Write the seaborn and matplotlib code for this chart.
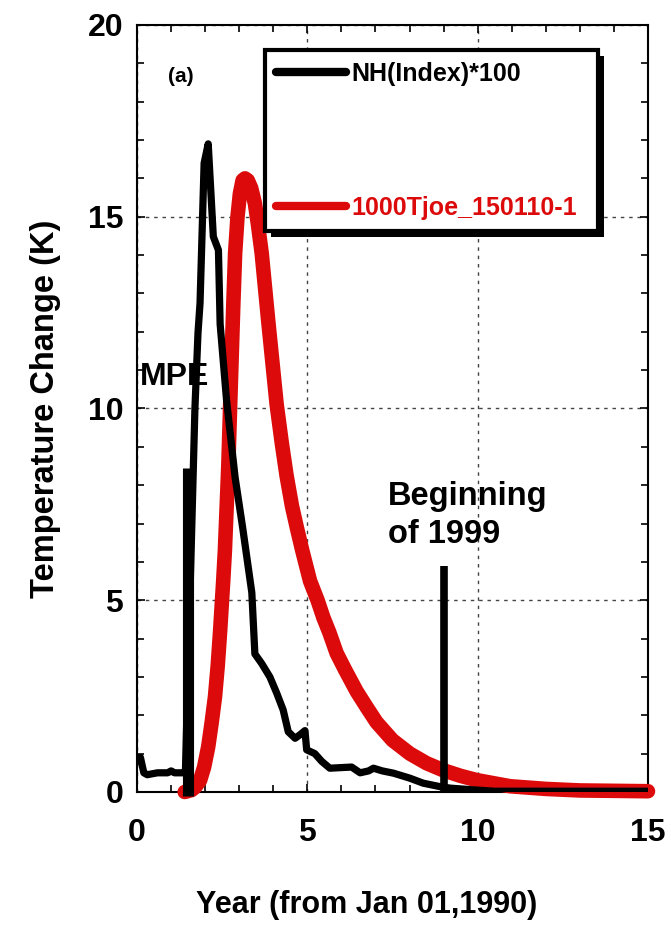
import numpy as np
import pandas as pd
import matplotlib
matplotlib.use("Agg")
import matplotlib.pyplot as plt
from matplotlib.patches import Rectangle
import seaborn as sns

# ---- data ----
nh_year = [0.0, 0.1, 0.2, 0.3, 0.6, 0.9, 1.0, 1.1, 1.35, 1.42, 1.55, 1.70, 1.79,
           1.85, 1.97, 2.09, 2.24, 2.39, 2.44, 2.63, 2.88, 3.10, 3.37, 3.46, 3.66,
           3.90, 4.10, 4.29, 4.44, 4.64, 4.78, 4.93, 4.98, 5.22, 5.42, 5.66, 6.30,
           6.55, 6.80, 6.94, 7.20, 7.53, 8.01, 8.40, 8.89, 9.20, 9.97, 10.5, 15.0]
nh_value = [0.8, 0.9, 0.5, 0.45, 0.5, 0.5, 0.55, 0.5, 0.5, 0.5, 5.0, 10.0, 11.97,
            12.75, 16.4, 16.9, 14.48, 14.13, 12.2, 10.2, 8.2, 6.9, 5.2, 3.6, 3.35,
            3.0, 2.58, 2.14, 1.57, 1.4, 1.49, 1.6, 1.1, 1.0, 0.8, 0.62, 0.65,
            0.5, 0.55, 0.62, 0.55, 0.49, 0.36, 0.23, 0.14, 0.1, 0.05, 0.02, 0.02]

model_year = [1.40, 1.60, 1.70, 1.85, 1.97, 2.09, 2.19, 2.29, 2.37, 2.44, 2.53,
              2.58, 2.68, 2.73, 2.83, 2.88, 2.95, 3.02, 3.10, 3.17, 3.25, 3.35,
              3.46, 3.55, 3.66, 3.85, 4.10, 4.25, 4.39, 4.55, 4.69, 4.85, 5.08,
              5.30, 5.47, 5.65, 5.86, 6.10, 6.45, 6.75, 7.03, 7.50, 8.01, 8.50,
              8.98, 9.50, 9.97, 10.95, 12.0, 13.0, 15.0]
model_value = [0.0, 0.05, 0.12, 0.3, 0.65, 1.18, 1.8, 2.49, 3.3, 4.2, 5.5,
               6.3, 8.5, 9.96, 12.8, 14.05, 15.0, 15.6, 15.95, 16.0, 15.95, 15.75,
               15.35, 14.8, 14.05, 12.3, 10.1, 9.1, 8.25, 7.45, 6.9, 6.3, 5.5,
               5.0, 4.55, 4.15, 3.62, 3.2, 2.62, 2.2, 1.82, 1.35, 1.0, 0.75,
               0.57, 0.42, 0.31, 0.15, 0.08, 0.04, 0.02]

event_year = [1.5, 9.0]
event_top = [8.45, 5.9]
event_bottom = [-0.1, 0.0]

labels = ["NH(Index)*100", "1000Tjoe_150110-1"]
x_ticks = [0, 5, 10, 15]
y_ticks = [0, 5, 10, 15, 20]

RED = "#dc0a0a"

sns.set_theme(style="ticks")
plt.rcParams["font.family"] = ["Liberation Sans", "DejaVu Sans"]
plt.rcParams["font.weight"] = "bold"
plt.rcParams["axes.labelweight"] = "bold"
plt.rcParams["text.color"] = "black"
plt.rcParams["axes.labelcolor"] = "black"
plt.rcParams["xtick.color"] = "black"
plt.rcParams["ytick.color"] = "black"

fig = plt.figure(figsize=(6.71, 9.25), dpi=100)
ax = fig.add_axes([0.2042, 0.1438, 0.7615, 0.8292])

df_nh = pd.DataFrame({"year": nh_year, "value": nh_value})
df_mod = pd.DataFrame({"year": model_year, "value": model_value})

sns.lineplot(data=df_mod, x="year", y="value", sort=False, estimator=None,
             color=RED, linewidth=10.5, ax=ax, label=labels[1], zorder=3,
             solid_joinstyle="round", clip_on=False)
sns.lineplot(data=df_nh, x="year", y="value", sort=False, estimator=None,
             color="black", linewidth=5.2, ax=ax, label=labels[0], zorder=4,
             solid_joinstyle="round")

ax.vlines(event_year[0], event_bottom[0], event_top[0], color="black",
          linewidth=8.0, zorder=5, clip_on=False)
ax.vlines(event_year[1], event_bottom[1], event_top[1], color="black",
          linewidth=5.5, zorder=5)

ax.set_xlim(0, 15)
ax.set_ylim(0, 20)
ax.set_xticks(x_ticks)
ax.set_yticks(y_ticks)
ax.set_xticks(np.arange(0, 16, 1), minor=True)
ax.set_yticks(np.arange(0, 21, 1), minor=True)
ax.tick_params(which="both", direction="in", top=True, right=True,
               color="black", width=1.2)
ax.tick_params(which="major", length=6)
ax.tick_params(which="minor", length=5)
ax.tick_params(axis="x", which="major", labelsize=23, pad=19)
ax.tick_params(axis="y", which="major", labelsize=23, pad=10)
for lab in ax.get_xticklabels() + ax.get_yticklabels():
    lab.set_fontweight("bold")

ax.grid(True, which="major", linestyle=(0, (2.5, 3.5)), color="#444444",
        linewidth=1.0)
for sp in ax.spines.values():
    sp.set_visible(True)
    sp.set_color("black")
    sp.set_linewidth(1.5)

ax.set_xlabel("Year (from Jan 01,1990)", fontsize=22, fontweight="bold")
ax.xaxis.set_label_coords(0.45, -0.128)
ax.set_ylabel("Temperature Change (K)", fontsize=23.5, fontweight="bold",
              labelpad=19)

ax.text(0.09, 10.6, "MPE", fontsize=23, fontweight="bold", ha="left",
        va="baseline", zorder=6)
ax.text(7.37, 7.48, "Beginning", fontsize=23.5, fontweight="bold", ha="left",
        va="baseline")
ax.text(7.37, 6.49, "of 1999", fontsize=23.5, fontweight="bold", ha="left",
        va="baseline")
ax.text(1.3, 18.65, "(a)", fontsize=15, fontweight="bold", ha="center",
        va="center")

# legend: black first, red second
handles, labs = ax.get_legend_handles_labels()
order = [labs.index(labels[0]), labs.index(labels[1])]
leg = ax.legend([handles[i] for i in order], [labs[i] for i in order],
                loc="upper left", bbox_to_anchor=(0.25, 0.726, 0.652, 0.241),
                mode="expand", borderaxespad=0, fancybox=False, shadow=False,
                frameon=True, framealpha=1, edgecolor="black",
                prop={"size": 18, "weight": "bold"},
                handlelength=2.8, handletextpad=0.2, labelspacing=4.4,
                borderpad=0.45, labelcolor="linecolor")
leg.get_frame().set_linewidth(3)
leg.set_zorder(10)
for h in leg.legend_handles:
    h.set_linewidth(6)

# solid black drop shadow behind the legend box
fig.canvas.draw()
bb = leg.get_frame().get_window_extent()
shadow = Rectangle((bb.x0 + 6, bb.y0 - 6), bb.width, bb.height,
                   transform=None, facecolor="black", edgecolor="none",
                   zorder=9.5)
ax.add_artist(shadow)

fig.savefig("out.png", dpi=100)
